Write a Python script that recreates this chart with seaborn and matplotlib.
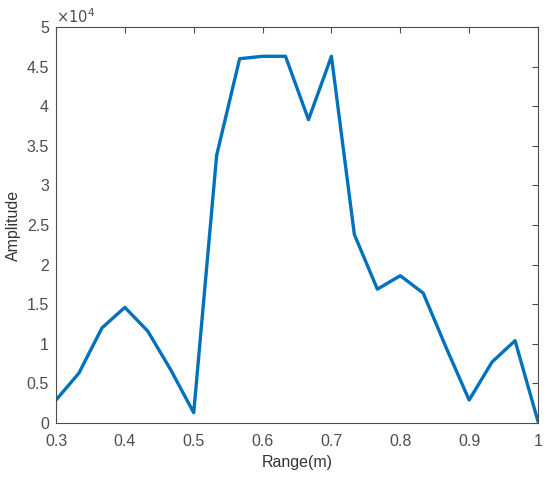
import numpy as np
import pandas as pd
import matplotlib
matplotlib.use('Agg')
import matplotlib.pyplot as plt
import seaborn as sns

# Range samples (m) and measured amplitude
range_m = [0.3, 0.3333, 0.3667, 0.4, 0.4333, 0.4667, 0.5, 0.5333, 0.5667, 0.6, 0.6333,
           0.6667, 0.7, 0.7333, 0.7667, 0.8, 0.8333, 0.8667, 0.9, 0.9333, 0.9667, 1.0]
amplitude = [2900, 6300, 12000, 14600, 11600, 6700, 1300, 33800, 46000, 46300, 46300,
             38300, 46300, 23800, 16900, 18600, 16400, 9500, 2900, 7700, 10400, 200]

x_ticks = [0.3, 0.4, 0.5, 0.6, 0.7, 0.8, 0.9, 1.0]
x_labels = ['0.3', '0.4', '0.5', '0.6', '0.7', '0.8', '0.9', '1']
y_ticks = [0, 5000, 10000, 15000, 20000, 25000, 30000, 35000, 40000, 45000, 50000]
y_labels = ['0', '0.5', '1', '1.5', '2', '2.5', '3', '3.5', '4', '4.5', '5']

df = pd.DataFrame({'Range(m)': range_m, 'Amplitude': amplitude})

sns.set_style('white')
plt.rcParams['font.family'] = ['Liberation Sans', 'DejaVu Sans']

fig = plt.figure(figsize=(5.5, 4.82), dpi=100)
ax = fig.add_axes([56 / 550, 1 - 423 / 482, 482 / 550, 396 / 482])

sns.lineplot(data=df, x='Range(m)', y='Amplitude', color='#0072BD', linewidth=2.4, ax=ax)

ax.set_xlim(0.3, 1.0)
ax.set_ylim(0, 50000)
ax.set_xticks(x_ticks)
ax.set_xticklabels(x_labels)
ax.set_yticks(y_ticks)
ax.set_yticklabels(y_labels)

grey = '#4d4d4d'
for s in ax.spines.values():
    s.set_color(grey)
    s.set_linewidth(0.8)
ax.tick_params(direction='in', length=4, width=0.8, colors=grey, labelsize=11.5,
               top=True, right=True, labeltop=False, labelright=False)
ax.tick_params(axis='x', pad=8)
ax.tick_params(axis='y', pad=5)
ax.set_xlabel('Range(m)', fontsize=11.5, color='#333333', labelpad=4)
ax.set_ylabel('Amplitude', fontsize=11.5, color='#333333', labelpad=4)
ax.text(0, 1.003, r'$\times10^{4}$', transform=ax.transAxes, fontsize=10.5, color=grey,
        ha='left', va='bottom')

fig.savefig('out.png', dpi=100)
